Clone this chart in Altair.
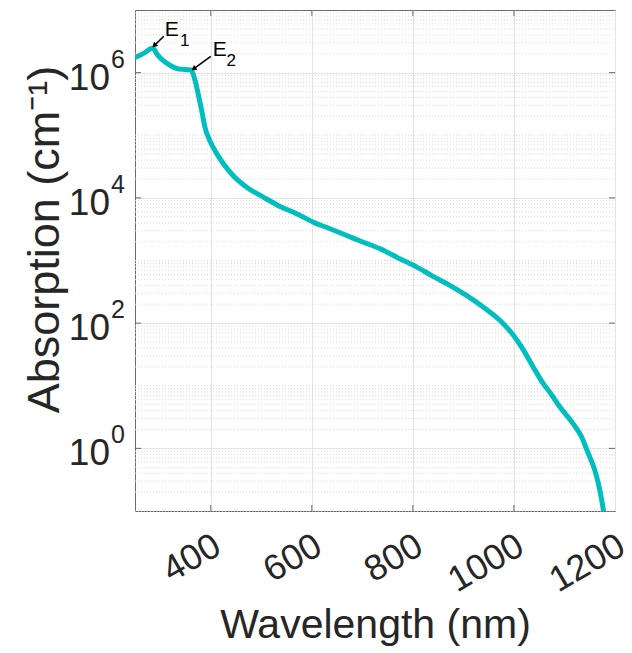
import altair as alt
import pandas as pd

# ---- data ----
wavelength = [250, 268, 285, 295, 306, 320, 332, 348, 362, 365, 369, 375, 382, 388.5, 398, 412,
              425, 444, 471, 504, 537, 570, 603, 636, 669, 702, 735, 774, 808, 840, 873, 906,
              939, 972, 999, 1018, 1038, 1058, 1071, 1091, 1117, 1134, 1147, 1160, 1170, 1177,
              1180]
absorption = [1.75e6, 2.05e6, 2.44e6, 1.9e6, 1.55e6, 1.3e6, 1.17e6, 1.12e6, 1.10e6, 9.5e5,
              7.45e5, 4.57e5, 2.48e5, 1.34e5, 8.2e4, 5.05e4, 3.5e4, 2.28e4, 1.48e4, 1.03e4,
              7.3e3, 5.57e3, 4.09e3, 3.21e3, 2.51e3, 1.96e3, 1.54e3, 1.07e3, 785, 557, 401,
              277, 181, 111, 64, 38, 20.0, 10.8, 7.9, 4.58, 2.49, 1.52, 0.83, 0.45, 0.215,
              0.103, 0.07]

x_ticks = [400, 600, 800, 1000, 1200]
y_ticks = [1, 100, 1e4, 1e6]
y_exponents = ["0", "2", "4", "6"]

# minor (dotted) grid positions of the log axis
minor_grid = [k * 10.0 ** d for d in range(-1, 7) for k in range(1, 10)
              if not (k == 1 and d in (0, 2, 4, 6)) and 0.1 <= k * 10.0 ** d <= 1e7]

# annotations (data coordinates)
ann_letters = ["E", "E"]
ann_subs = ["1", "2"]
ann_x = [309, 404]
ann_y = [3.9e6, 1.83e6]
sub_x = [339, 431]
sub_y = [2.7e6, 1.29e6]
arrow_x0 = [307, 400]
arrow_y0 = [3.8e6, 1.82e6]
arrow_x1 = [288, 366]
arrow_y1 = [2.7e6, 1.15e6]
arrow_angle = [226, 234]

FONT = "Liberation Sans"
TEAL = "#00BEBE"
AXC = "#6a6a6a"
TXT = "#262626"

curve = pd.DataFrame({"wavelength": wavelength, "absorption": absorption})
ticks_df = pd.DataFrame({"t": y_ticks, "e": y_exponents})
minor_df = pd.DataFrame({"m": minor_grid})
xt_df = pd.DataFrame({"x": x_ticks[:-1]})
ann = pd.DataFrame({"lx": ann_x, "ly": ann_y, "L": ann_letters,
                    "sx": sub_x, "sy": sub_y, "S": ann_subs,
                    "x0": arrow_x0, "y0": arrow_y0, "x1": arrow_x1, "y1": arrow_y1,
                    "ang": arrow_angle})

xs = alt.Scale(domain=[250, 1200], nice=False, zero=False)
ys = alt.Scale(type="log", domain=[0.1, 1e7], nice=False)

XAX = alt.Axis(values=x_ticks, format="d", title="Wavelength (nm)", grid=True, gridColor="#e3e3e3",
               ticks=False, domainColor=AXC, labelFont=FONT, labelFontSize=36,
               labelColor=TXT, labelAngle=330, labelAlign="right",
               labelBaseline="top", labelPadding=17, labelOffset=-2, labelFlush=False,
               labelBound=False,
               titleFont=FONT, titleFontSize=41, titleFontWeight="normal",
               titleColor=TXT, titleY=114, titleBaseline="middle")
YAX = alt.Axis(values=y_ticks, title="Absorption (cm⁻¹)", grid=True, gridColor="#e3e3e3",
               ticks=False, labels=False, domainColor=AXC,
               titleFont=FONT, titleFontSize=45, titleFontWeight="normal",
               titleColor=TXT, titleX=-91, titleY=229, titleBaseline="middle")


def X(f):
    return alt.X(f, scale=xs, axis=XAX)


def Y(f):
    return alt.Y(f, scale=ys, axis=YAX)


minor = alt.Chart(minor_df).mark_rule(color="#d9d9d9", strokeDash=[1, 2], strokeWidth=1).encode(
    y=Y("m:Q"), x=alt.value(0), x2=alt.value(480))

line = alt.Chart(curve).mark_line(color=TEAL, strokeWidth=5, interpolate="monotone", clip=True).encode(
    x=X("wavelength:Q"), y=Y("absorption:Q"))

xtick_b = alt.Chart(xt_df).mark_rule(color=AXC).encode(
    x=X("x:Q"), y=alt.value(501), y2=alt.value(495))
xtick_t = alt.Chart(xt_df).mark_rule(color=AXC).encode(
    x=X("x:Q"), y=alt.value(0), y2=alt.value(6))
ytick_l = alt.Chart(ticks_df).mark_rule(color=AXC).encode(
    y=Y("t:Q"), x=alt.value(0), x2=alt.value(6))
ytick_r = alt.Chart(ticks_df).mark_rule(color=AXC).encode(
    y=Y("t:Q"), x=alt.value(474), x2=alt.value(480))

ylab10 = alt.Chart(ticks_df).mark_text(font=FONT, fontSize=37, align="right", baseline="alphabetic",
                                       dy=17, color=TXT).encode(
    y=Y("t:Q"), x=alt.value(-25), text=alt.value("10"))
ylabexp = alt.Chart(ticks_df).mark_text(font=FONT, fontSize=25, align="left", baseline="alphabetic",
                                        dy=-5, color=TXT).encode(
    y=Y("t:Q"), x=alt.value(-24), text="e:N")

letters = alt.Chart(ann).mark_text(font=FONT, fontSize=21, align="left", baseline="alphabetic",
                                   color="black").encode(
    x=X("lx:Q"), y=Y("ly:Q"), text="L:N")
subs = alt.Chart(ann).mark_text(font=FONT, fontSize=17, align="left", baseline="alphabetic",
                                color="black").encode(
    x=X("sx:Q"), y=Y("sy:Q"), text="S:N")
shafts = alt.Chart(ann).mark_rule(color="black", strokeWidth=1.5).encode(
    x=X("x0:Q"), y=Y("y0:Q"), x2="x1:Q", y2="y1:Q")
heads = alt.Chart(ann).mark_point(shape="triangle-up", filled=True, color="black", size=34,
                                  opacity=1).encode(
    x=X("x1:Q"), y=Y("y1:Q"), angle=alt.Angle("ang:Q", scale=None))

chart = alt.layer(minor, line, xtick_b, xtick_t, ytick_l, ytick_r, ylab10, ylabexp,
                  shafts, heads, letters, subs).properties(
    width=480, height=501,
    autosize=alt.AutoSizeParams(type="none"),
    padding={"left": 135, "top": 10, "right": 17, "bottom": 142},
    background="white",
).configure_view(stroke=AXC, strokeWidth=1)

chart.save("out.html", embed_options={"renderer": "svg", "actions": False})
